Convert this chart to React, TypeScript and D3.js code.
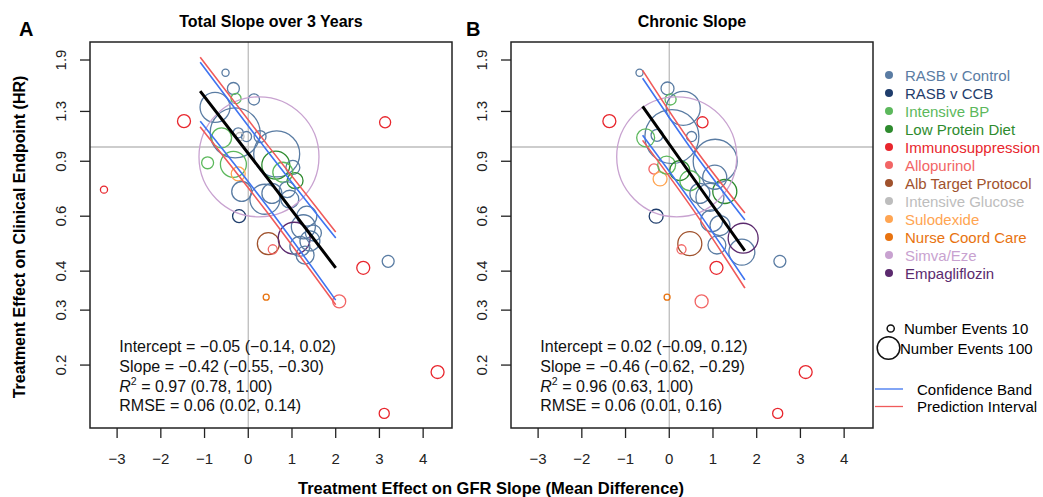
import React from "react";
import * as d3 from "d3";

// ---------- legend groups ----------
const groupNames = [
  "RASB v Control", "RASB v CCB", "Intensive BP", "Low Protein Diet", "Immunosuppression",
  "Allopurinol", "Alb Target Protocol", "Intensive Glucose", "Sulodexide", "Nurse Coord Care",
  "Simva/Eze", "Empagliflozin",
];
const groupColors = [
  "#5a7ca3", "#1f3d6c", "#5cb85c", "#2e8b2e", "#e8262d", "#f26565",
  "#a0522d", "#bdbdbd", "#ffa552", "#e8730f", "#c8a2d0", "#5b2a6e",
];

// ---------- axes ----------
const xTicks = [-3, -2, -1, 0, 1, 2, 3, 4];
const yTicks = [0.2, 0.3, 0.4, 0.6, 0.9, 1.3, 1.9];
const xDomain = [-3.62, 4.66];
const yDomain = [0.1257, 2.17];

// ---------- Panel A: total slope over 3 years ----------
const totalX = [-0.52, -0.34, -0.28, 0.13, -0.76, -1.47, -0.30, -0.23, -0.04, -0.19, 0.27, -0.61, -0.93, 0.65, -0.34, 0.63, -0.23, 1.02, 1.07, -0.15, 0.38, 0.54, 0.95, -0.21, 1.26, 1.34, 0.46, 0.56, 1.05, 1.18, 1.41, 1.49, 2.63, 3.20, 0.41, 2.08, 4.33, 3.11, -3.30, 3.13, 0.79, 0.89, 1.30, 0.245];
const totalHR = [1.73, 1.54, 1.43, 1.42, 1.34, 1.21, 1.11, 1.11, 1.08, 1.08, 1.08, 1.07, 0.89, 0.95, 0.88, 0.875, 0.82, 0.86, 0.78, 0.72, 0.68, 0.71, 0.68, 0.60, 0.555, 0.60, 0.49, 0.47, 0.51, 0.48, 0.50, 0.53, 0.41, 0.43, 0.33, 0.32, 0.19, 0.14, 0.73, 1.20, 0.83, 0.73, 0.45, 0.93];
const totalEvents = [10, 28, 20, 24, 176, 33, 489, 20, 20, 13, 28, 78, 28, 414, 132, 153, 38, 38, 50, 78, 176, 78, 63, 33, 113, 78, 95, 16, 200, 78, 78, 50, 33, 28, 7, 33, 33, 20, 10, 24, 78, 50, 63, 2819];
const totalGroup = [0, 0, 2, 0, 0, 4, 0, 0, 0, 7, 0, 2, 2, 0, 2, 3, 8, 0, 3, 0, 0, 0, 0, 1, 0, 0, 6, 5, 11, 0, 0, 0, 4, 0, 9, 5, 4, 4, 4, 4, 2, 0, 0, 10];

const totalBandX = [-1.1, 0.45, 2.0];
const totalFit = [1.51, 0.79, 0.41];
const totalCiUpper = [1.87, 0.966, 0.511];
const totalCiLower = [1.21, 0.641, 0.323];
const totalPiUpper = [1.94, 1.01, 0.534];
const totalPiLower = [1.16, 0.613, 0.312];
const totalStats = ["−0.05 (−0.14, 0.02)", "−0.42 (−0.55, −0.30)", "0.97 (0.78, 1.00)", "0.06 (0.02, 0.14)"];

// ---------- Panel B: chronic slope ----------
const chronicX = [-0.68, -0.04, 0.03, 0.32, -1.37, 0.76, 0.06, -0.28, 0.51, -0.54, 1.05, -0.35, -0.21, -0.06, 0.24, 0.47, 1.27, -0.30, 1.04, 0.93, 0.70, 0.97, 1.16, 1.09, 1.66, 1.69, 0.47, 0.28, 2.53, 1.08, -0.05, 0.74, 3.12, 2.48, 0.17];
const chronicHR = [1.73, 1.54, 1.42, 1.33, 1.21, 1.20, 1.08, 1.09, 1.08, 1.07, 0.90, 0.85, 0.79, 0.875, 0.84, 0.78, 0.72, 0.60, 0.80, 0.69, 0.71, 0.58, 0.56, 0.485, 0.46, 0.51, 0.49, 0.47, 0.43, 0.41, 0.33, 0.32, 0.19, 0.14, 0.93];
const chronicEvents = [10, 33, 24, 226, 33, 24, 571, 28, 20, 63, 379, 20, 38, 63, 78, 78, 113, 38, 113, 153, 78, 95, 78, 63, 132, 176, 113, 16, 28, 33, 7, 33, 33, 20, 2819];
const chronicGroup = [0, 0, 2, 0, 4, 4, 0, 0, 0, 2, 0, 5, 8, 2, 3, 2, 3, 1, 0, 0, 0, 0, 0, 0, 0, 11, 6, 5, 0, 4, 9, 5, 4, 4, 10];

const chronicBandX = [-0.61, 0.56, 1.73];
const chronicFit = [1.35, 0.791, 0.465];
const chronicCiUpper = [1.66, 0.96, 0.583];
const chronicCiLower = [1.09, 0.65, 0.375];
const chronicPiUpper = [1.76, 1.0, 0.614];
const chronicPiLower = [1.05, 0.625, 0.353];
const chronicStats = ["0.02 (−0.09, 0.12)", "−0.46 (−0.62, −0.29)", "0.96 (0.63, 1.00)", "0.06 (0.01, 0.16)"];

const sizeLegendEvents = [10, 100];

// ---------- layout ----------
const W = 1043;
const H = 497;
const TOP = 42;
const BOTTOM = 428;
const PW = 362;
const FONT = "'Liberation Sans', Arial, Helvetica, sans-serif";
const BLUE = "#3f74f0";
const RED = "#f05a5a";

const rScale = d3.scaleSqrt().domain([0, 100]).range([0, 11.3]);

type PanelProps = {
  id: string;
  left: number;
  title: string;
  letter: string;
  letterX: number;
  xs: number[];
  hrs: number[];
  events: number[];
  grp: number[];
  bandX: number[];
  fit: number[];
  ciU: number[];
  ciL: number[];
  piU: number[];
  piL: number[];
  stats: string[];
};

function Panel(p: PanelProps) {
  const x = d3.scaleLinear().domain(xDomain).range([p.left, p.left + PW]);
  const y = d3.scaleLog().domain(yDomain).range([BOTTOM, TOP]);
  const mk = (vals: number[]) =>
    d3
      .line<number>()
      .x((_, i) => x(p.bandX[i]))
      .y((v) => y(v))
      .curve(d3.curveNatural)(vals) || "";
  const order = d3.range(p.xs.length);
  const statX = x(-2.95);
  const lineYs = [352, 372, 392, 411];
  return (
    <g>
      <defs>
        <clipPath id={`clip-${p.id}`}>
          <rect x={p.left} y={TOP} width={PW} height={BOTTOM - TOP} />
        </clipPath>
      </defs>
      <text x={p.letterX} y={36} fontSize={20} fontWeight="bold" fontFamily={FONT}>
        {p.letter}
      </text>
      <text x={p.left + PW / 2} y={27} fontSize={16} fontWeight="bold" textAnchor="middle" fontFamily={FONT}>
        {p.title}
      </text>
      {/* reference lines */}
      <line x1={x(0)} x2={x(0)} y1={TOP} y2={BOTTOM} stroke="#bdbdbd" strokeWidth={1.3} />
      <line x1={p.left} x2={p.left + PW} y1={y(1)} y2={y(1)} stroke="#bdbdbd" strokeWidth={1.3} />
      <g clipPath={`url(#clip-${p.id})`}>
        {order.map((i) => (
          <circle
            key={i}
            cx={x(p.xs[i])}
            cy={y(p.hrs[i])}
            r={rScale(p.events[i])}
            fill="none"
            stroke={groupColors[p.grp[i]]}
            strokeWidth={1.3}
          />
        ))}
        <path d={mk(p.piU)} fill="none" stroke={RED} strokeWidth={1.6} />
        <path d={mk(p.piL)} fill="none" stroke={RED} strokeWidth={1.6} />
        <path d={mk(p.ciU)} fill="none" stroke={BLUE} strokeWidth={1.6} />
        <path d={mk(p.ciL)} fill="none" stroke={BLUE} strokeWidth={1.6} />
        <path d={mk(p.fit)} fill="none" stroke="#000" strokeWidth={3} />
      </g>
      {/* box */}
      <rect x={p.left} y={TOP} width={PW} height={BOTTOM - TOP} fill="none" stroke="#222" strokeWidth={1.5} />
      {/* x axis */}
      {xTicks.map((t) => (
        <g key={t}>
          <line x1={x(t)} x2={x(t)} y1={BOTTOM} y2={BOTTOM + 10} stroke="#222" strokeWidth={1.3} />
          <text x={x(t)} y={464} fontSize={15} textAnchor="middle" fontFamily={FONT} fill="#222">
            {t < 0 ? `−${-t}` : `${t}`}
          </text>
        </g>
      ))}
      {/* y axis */}
      {yTicks.map((t) => (
        <g key={t}>
          <line x1={p.left - 10} x2={p.left} y1={y(t)} y2={y(t)} stroke="#222" strokeWidth={1.3} />
          <text
            transform={`translate(${p.left - 24},${y(t)}) rotate(-90)`}
            fontSize={15}
            textAnchor="middle"
            fontFamily={FONT}
            fill="#222"
          >
            {t}
          </text>
        </g>
      ))}
      {/* stats */}
      <g fontFamily={FONT} fontSize={16} fill="#111">
        <text x={statX} y={lineYs[0]}>Intercept = {p.stats[0]}</text>
        <text x={statX} y={lineYs[1]}>Slope = {p.stats[1]}</text>
        <text x={statX} y={lineYs[2]}>
          <tspan fontStyle="italic">R</tspan>
          <tspan fontSize={10.5} dy={-7}>2</tspan>
          <tspan dy={7}> = {p.stats[2]}</tspan>
        </text>
        <text x={statX} y={lineYs[3]}>RMSE = {p.stats[3]}</text>
      </g>
    </g>
  );
}

export default function App() {
  return (
    <svg
      width={W}
      height={H}
      viewBox={`0 0 ${W} ${H}`}
      style={{ position: "absolute", left: 0, top: 0, background: "#fff" }}
    >
      <rect x={0} y={0} width={W} height={H} fill="#fff" />
      <Panel
        id="a"
        left={90}
        title="Total Slope over 3 Years"
        letter="A"
        letterX={19}
        xs={totalX}
        hrs={totalHR}
        events={totalEvents}
        grp={totalGroup}
        bandX={totalBandX}
        fit={totalFit}
        ciU={totalCiUpper}
        ciL={totalCiLower}
        piU={totalPiUpper}
        piL={totalPiLower}
        stats={totalStats}
      />
      <Panel
        id="b"
        left={511}
        title="Chronic Slope"
        letter="B"
        letterX={466}
        xs={chronicX}
        hrs={chronicHR}
        events={chronicEvents}
        grp={chronicGroup}
        bandX={chronicBandX}
        fit={chronicFit}
        ciU={chronicCiUpper}
        ciL={chronicCiLower}
        piU={chronicPiUpper}
        piL={chronicPiLower}
        stats={chronicStats}
      />
      {/* axis titles */}
      <text
        transform="translate(25,237) rotate(-90)"
        textAnchor="middle"
        fontSize={16}
        fontWeight="bold"
        fontFamily={FONT}
      >
        Treatment Effect on Clinical Endpoint (HR)
      </text>
      <text x={491} y={494} textAnchor="middle" fontSize={16.5} fontWeight="bold" fontFamily={FONT}>
        Treatment Effect on GFR Slope (Mean Difference)
      </text>
      {/* group legend */}
      <g fontFamily={FONT} fontSize={15}>
        {groupNames.map((g, i) => (
          <g key={g}>
            <circle cx={889} cy={75 + i * 18} r={4} fill={groupColors[i]} />
            <text x={905} y={75 + i * 18} dominantBaseline="central" fill={groupColors[i]}>
              {g}
            </text>
          </g>
        ))}
      </g>
      {/* size legend */}
      <g fontFamily={FONT} fontSize={15}>
        <circle cx={890.7} cy={328.5} r={rScale(sizeLegendEvents[0])} fill="none" stroke="#111" strokeWidth={1.5} />
        <text x={904} y={328} dominantBaseline="central">Number Events {sizeLegendEvents[0]}</text>
        <circle cx={888.5} cy={348} r={rScale(sizeLegendEvents[1])} fill="none" stroke="#111" strokeWidth={1.5} />
        <text x={900} y={348} dominantBaseline="central">Number Events {sizeLegendEvents[1]}</text>
        <line x1={875} x2={903} y1={389} y2={389} stroke={BLUE} strokeWidth={1.3} />
        <text x={917} y={389} dominantBaseline="central">Confidence Band</text>
        <line x1={875} x2={903} y1={406.5} y2={406.5} stroke={RED} strokeWidth={1.3} />
        <text x={917} y={406.5} dominantBaseline="central">Prediction Interval</text>
      </g>
    </svg>
  );
}
